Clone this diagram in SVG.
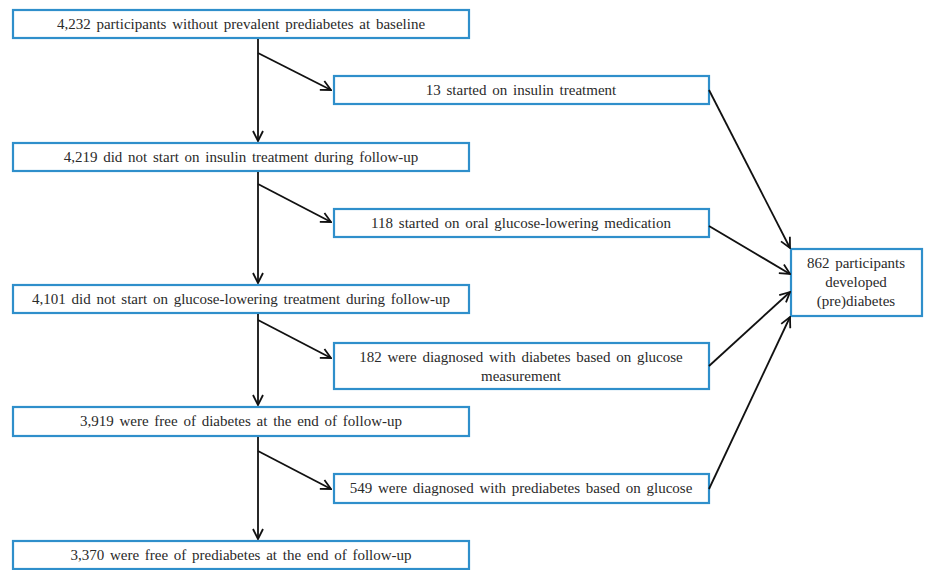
<svg xmlns="http://www.w3.org/2000/svg" width="927" height="570" viewBox="0 0 927 570">
<defs>
<marker id="ah" viewBox="0 0 12 12" refX="11" refY="6" markerWidth="12" markerHeight="12" markerUnits="userSpaceOnUse" orient="auto">
<path d="M1,1 L11,6 L1,11" fill="none" stroke="#111" stroke-width="1.8"/>
</marker>
<style>
.box{fill:#fff;stroke:#2f8fcb;stroke-width:2.2}
.t{font-family:'Liberation Serif','DejaVu Serif','Times New Roman',serif;font-size:15px;fill:#2a2a2a;text-anchor:middle;word-spacing:2px}
.c{stroke:#111;stroke-width:1.8;fill:none;marker-end:url(#ah)}
</style>
</defs>
<rect width="927" height="570" fill="#fff"/>
<g id="n1"><rect class="box" x="13" y="10" width="456" height="28"/><text class="t" x="241" y="29">4,232 participants without prevalent prediabetes at baseline</text></g>
<g id="nA"><rect class="box" x="334" y="76" width="375" height="28"/><text class="t" x="521" y="95">13 started on insulin treatment</text></g>
<g id="n2"><rect class="box" x="13" y="143" width="456" height="28"/><text class="t" x="241" y="162">4,219 did not start on insulin treatment during follow-up</text></g>
<g id="nB"><rect class="box" x="334" y="209" width="375" height="28"/><text class="t" x="521" y="228">118 started on oral glucose-lowering medication</text></g>
<g id="n3"><rect class="box" x="13" y="285" width="456" height="28"/><text class="t" x="241" y="304">4,101 did not start on glucose-lowering treatment during follow-up</text></g>
<g id="nC"><rect class="box" x="334" y="343" width="375" height="46"/><text class="t" x="521" y="362">182 were diagnosed with diabetes based on glucose</text><text class="t" x="521" y="381">measurement</text></g>
<g id="n4"><rect class="box" x="13" y="407" width="456" height="29"/><text class="t" x="241" y="426">3,919 were free of diabetes at the end of follow-up</text></g>
<g id="nD"><rect class="box" x="334" y="474" width="375" height="29"/><text class="t" x="521" y="493">549 were diagnosed with prediabetes based on glucose</text></g>
<g id="n5"><rect class="box" x="13" y="541" width="456" height="28"/><text class="t" x="241" y="560">3,370 were free of prediabetes at the end of follow-up</text></g>
<g id="nE"><rect class="box" x="791" y="249" width="131" height="67"/><text class="t" x="856" y="268">862 participants</text><text class="t" x="856" y="287">developed</text><text class="t" x="856" y="306">(pre)diabetes</text></g>
<g id="connectors">
<line class="c" x1="258" y1="39" x2="258" y2="141"/>
<line class="c" x1="258" y1="172" x2="258" y2="283"/>
<line class="c" x1="258" y1="314" x2="258" y2="405"/>
<line class="c" x1="258" y1="437" x2="258" y2="539"/>
<line class="c" x1="258" y1="53" x2="331" y2="90"/>
<line class="c" x1="258" y1="184" x2="331" y2="222"/>
<line class="c" x1="258" y1="320" x2="331" y2="358"/>
<line class="c" x1="258" y1="451" x2="331" y2="489"/>
<line class="c" x1="709" y1="90" x2="790" y2="248"/>
<line class="c" x1="709" y1="226" x2="790" y2="274"/>
<line class="c" x1="709" y1="366" x2="790" y2="292"/>
<line class="c" x1="709" y1="489" x2="790" y2="317"/>
</g>
</svg>
